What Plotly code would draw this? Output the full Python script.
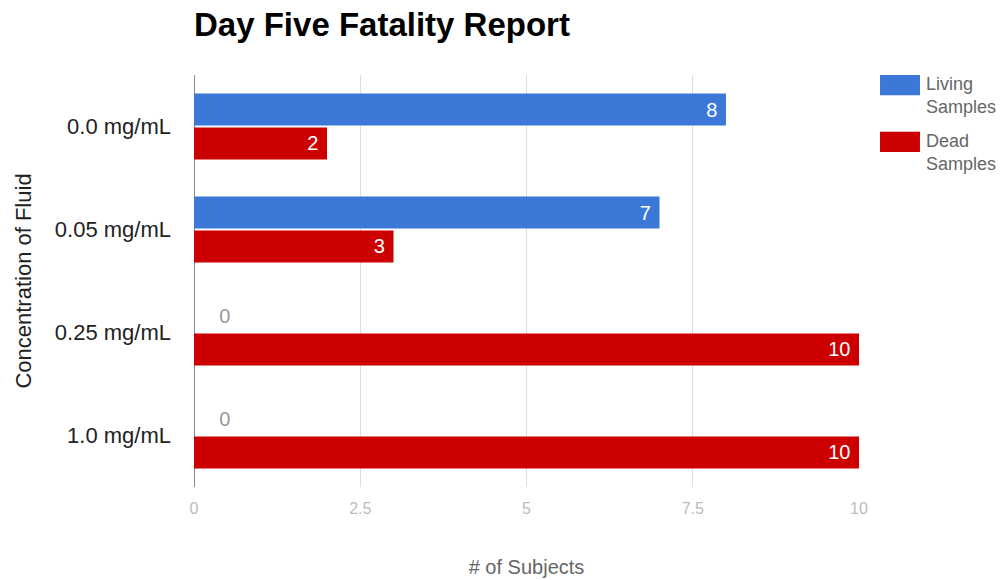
import plotly.graph_objects as go

categories = ["0.0 mg/mL", "0.05 mg/mL", "0.25 mg/mL", "1.0 mg/mL"]
living = [8, 7, 0, 0]
dead = [2, 3, 10, 10]
series_names = ["Living<br>Samples", "Dead<br>Samples"]
series_colors = ["#3c78d8", "#cc0000"]
x_ticks = [0, 2.5, 5, 7.5, 10]
x_tick_labels = ["0", "2.5", "5", "7.5", "10"]

FONT = "Arial, Liberation Sans, sans-serif"
NB = "\u00a0"

fig = go.Figure()
for vals, name, color in zip([living, dead], series_names, series_colors):
    fig.add_trace(go.Bar(
        y=categories, x=vals, orientation="h", name=name,
        marker=dict(color=color, line=dict(width=0)),
        text=[(str(v) + NB) if v > 0 else (NB * 4 + str(v)) for v in vals],
        textposition=["inside" if v > 0 else "outside" for v in vals],
        insidetextanchor="end",
        insidetextfont=dict(color="white", size=20, family=FONT),
        outsidetextfont=dict(color="#999999", size=20, family=FONT),
        cliponaxis=False,
        showlegend=False,
    ))

# custom legend (large swatches like the original)
legend_pos = [(1.0, 1.007), (0.862, 0.869)]
for (sy, ty), name, color in zip(legend_pos, series_names, series_colors):
    fig.add_shape(type="rect", xref="paper", yref="paper",
                  x0=1.0316, x1=1.0917, y0=sy - 0.049, y1=sy,
                  fillcolor=color, line=dict(width=0))
    fig.add_annotation(xref="paper", yref="paper", x=1.0978, y=ty,
                       xanchor="left", yanchor="top", showarrow=False,
                       text=name, align="left",
                       font=dict(size=18, color="#666666", family=FONT))

fig.update_layout(
    width=1003, height=580,
    margin=dict(l=194, r=144, t=75, b=93),
    paper_bgcolor="white", plot_bgcolor="white",
    barmode="group", bargap=0.34, bargroupgap=0.06,
    title=dict(text="<b>Day Five Fatality Report</b>", x=194 / 1003, xanchor="left",
               y=1 - 24 / 580, yanchor="middle",
               font=dict(size=33, color="#000000", family=FONT)),
    xaxis=dict(range=[0, 10], tickvals=x_ticks, ticktext=x_tick_labels,
               automargin=False,
               showgrid=True, gridcolor="#dddddd", gridwidth=1,
               zeroline=True, zerolinecolor="#888888", zerolinewidth=1,
               showline=False, ticks="", ticklabelstandoff=10,
               tickfont=dict(size=16, color="#bbbbbb", family=FONT),
               title=dict(text="# of Subjects", standoff=43,
                          font=dict(size=20, color="#666666", family=FONT))),
    yaxis=dict(autorange="reversed", showgrid=False, ticks="",
               automargin=False,
               ticklabelstandoff=22,
               tickfont=dict(size=22, color="#222222", family=FONT),
               title=dict(text="Concentration of Fluid", standoff=17,
                          font=dict(size=22, color="#222222", family=FONT))),
)

fig.write_html("out.html")
